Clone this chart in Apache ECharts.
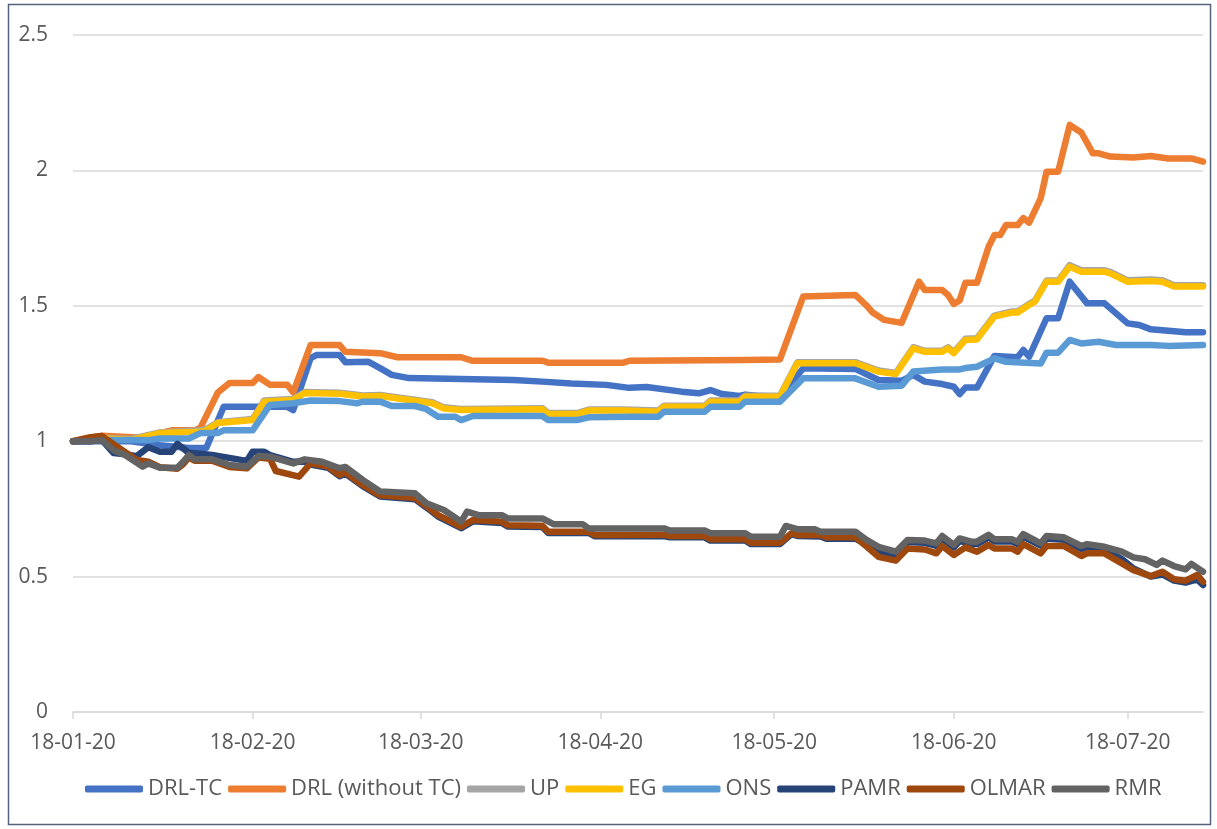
<!DOCTYPE html>
<html>
<head>
<meta charset="utf-8">
<script src="https://cdn.jsdelivr.net/npm/echarts@6/dist/echarts.min.js"></script>
<style>
  html, body { margin: 0; padding: 0; background: #ffffff; }
  #chart { width: 1217px; height: 829px; }
</style>
</head>
<body>
<div id="chart"></div>
<script>
// Portfolio value paths, Jan–Jul 2020 (dates are MM-DD in YEAR)
const YEAR = 2020;
const tickLabels = ['18-01-20', '18-02-20', '18-03-20', '18-04-20', '18-05-20', '18-06-20', '18-07-20'];
const seriesNames = ['DRL-TC', 'DRL (without TC)', 'UP', 'EG', 'ONS', 'PAMR', 'OLMAR', 'RMR'];
const seriesColors = ['#4472C4', '#ED7D31', '#A5A5A5', '#FFC000', '#5B9BD5', '#264478', '#9E480E', '#636363'];

const drlTc = [['01-18',1.00],['01-28',1.00],['02-02',0.985],['02-07',0.975],['02-10',0.975],['02-13',1.127],['02-24',1.127],['02-25',1.115],['02-28',1.307],['02-29',1.318],['03-04',1.318],['03-05',1.292],['03-09',1.293],['03-11',1.27],['03-13',1.245],['03-16',1.233],['03-25',1.23],['04-03',1.226],['04-08',1.22],['04-13',1.213],['04-19',1.208],['04-23',1.197],['04-26',1.20],['05-02',1.183],['05-05',1.177],['05-07',1.189],['05-09',1.174],['05-12',1.167],['05-13',1.172],['05-15',1.168],['05-19',1.164],['05-23',1.269],['06-01',1.267],['06-05',1.226],['06-09',1.223],['06-11',1.245],['06-13',1.22],['06-16',1.211],['06-18',1.201],['06-19',1.174],['06-20',1.198],['06-22',1.198],['06-25',1.315],['06-29',1.31],['06-30',1.337],['07-01',1.312],['07-04',1.454],['07-06',1.454],['07-08',1.589],['07-11',1.509],['07-14',1.509],['07-18',1.435],['07-20',1.429],['07-22',1.413],['07-25',1.408],['07-28',1.402],['07-31',1.402]];

const drlNoTc = [['01-18',1.00],['01-23',1.02],['01-30',1.013],['02-02',1.03],['02-04',1.04],['02-08',1.04],['02-09',1.05],['02-12',1.18],['02-14',1.215],['02-18',1.215],['02-19',1.237],['02-21',1.208],['02-24',1.208],['02-25',1.18],['02-28',1.355],['03-04',1.355],['03-05',1.33],['03-11',1.325],['03-14',1.31],['03-25',1.31],['03-27',1.297],['04-08',1.297],['04-09',1.29],['04-22',1.29],['04-23',1.297],['05-13',1.30],['05-19',1.302],['05-23',1.534],['06-01',1.54],['06-03',1.50],['06-04',1.475],['06-06',1.448],['06-09',1.437],['06-12',1.589],['06-13',1.558],['06-16',1.558],['06-17',1.54],['06-18',1.507],['06-19',1.52],['06-20',1.585],['06-22',1.585],['06-24',1.718],['06-25',1.761],['06-26',1.761],['06-27',1.798],['06-29',1.798],['06-30',1.824],['07-01',1.807],['07-03',1.898],['07-04',1.995],['07-06',1.995],['07-08',2.168],['07-10',2.14],['07-12',2.063],['07-13',2.063],['07-15',2.051],['07-19',2.048],['07-22',2.053],['07-25',2.044],['07-29',2.044],['07-31',2.032]];

const up = [['01-18',1.00],['01-23',1.012],['01-28',1.008],['02-02',1.032],['02-09',1.04],['02-10',1.045],['02-12',1.07],['02-18',1.082],['02-20',1.15],['02-25',1.156],['02-27',1.182],['03-04',1.179],['03-08',1.169],['03-11',1.171],['03-16',1.156],['03-20',1.144],['03-22',1.125],['03-25',1.119],['04-08',1.122],['04-09',1.104],['04-14',1.104],['04-16',1.117],['04-22',1.117],['04-28',1.113],['04-29',1.131],['05-06',1.131],['05-07',1.15],['05-12',1.15],['05-13',1.168],['05-19',1.168],['05-22',1.292],['06-01',1.292],['06-05',1.261],['06-08',1.252],['06-11',1.347],['06-13',1.334],['06-16',1.334],['06-17',1.347],['06-18',1.329],['06-20',1.378],['06-22',1.38],['06-25',1.464],['06-28',1.479],['06-29',1.479],['07-01',1.507],['07-02',1.519],['07-04',1.593],['07-06',1.593],['07-08',1.65],['07-10',1.631],['07-14',1.631],['07-15',1.625],['07-18',1.594],['07-22',1.597],['07-24',1.594],['07-26',1.576],['07-31',1.576]];

const eg = [['01-18',1.00],['01-23',1.01],['01-28',1.005],['02-02',1.03],['02-09',1.035],['02-10',1.04],['02-12',1.067],['02-18',1.078],['02-20',1.146],['02-25',1.152],['02-27',1.178],['03-04',1.175],['03-08',1.165],['03-11',1.167],['03-16',1.152],['03-20',1.14],['03-22',1.121],['03-25',1.115],['04-08',1.118],['04-09',1.10],['04-14',1.10],['04-16',1.113],['04-22',1.113],['04-28',1.109],['04-29',1.127],['05-06',1.127],['05-07',1.146],['05-12',1.146],['05-13',1.164],['05-19',1.164],['05-22',1.288],['06-01',1.288],['06-05',1.257],['06-08',1.248],['06-11',1.343],['06-13',1.33],['06-16',1.33],['06-17',1.343],['06-18',1.325],['06-20',1.374],['06-22',1.376],['06-25',1.46],['06-28',1.475],['06-29',1.475],['07-01',1.503],['07-02',1.515],['07-04',1.589],['07-06',1.589],['07-08',1.644],['07-10',1.626],['07-14',1.626],['07-15',1.62],['07-18',1.589],['07-22',1.592],['07-24',1.589],['07-26',1.571],['07-31',1.571]];

const ons = [['01-18',1.00],['01-23',1.004],['01-31',1.004],['02-02',1.01],['02-07',1.01],['02-09',1.03],['02-12',1.03],['02-13',1.04],['02-18',1.04],['02-21',1.134],['02-25',1.14],['02-28',1.15],['03-04',1.148],['03-07',1.14],['03-08',1.146],['03-11',1.146],['03-13',1.13],['03-17',1.13],['03-19',1.118],['03-21',1.09],['03-24',1.09],['03-25',1.078],['03-27',1.093],['04-08',1.093],['04-09',1.078],['04-14',1.078],['04-16',1.088],['04-23',1.09],['04-28',1.09],['04-29',1.109],['05-06',1.109],['05-07',1.127],['05-12',1.127],['05-13',1.146],['05-19',1.146],['05-23',1.232],['06-01',1.232],['06-05',1.201],['06-09',1.205],['06-11',1.257],['06-16',1.265],['06-19',1.265],['06-20',1.27],['06-22',1.275],['06-25',1.306],['06-27',1.293],['07-03',1.287],['07-04',1.327],['07-06',1.327],['07-08',1.374],['07-10',1.361],['07-13',1.367],['07-16',1.355],['07-22',1.355],['07-25',1.352],['07-31',1.355]];

const pamr = [['01-18',1.00],['01-21',1.00],['01-23',1.004],['01-25',0.956],['01-27',0.952],['01-29',0.945],['01-31',0.978],['02-02',0.961],['02-04',0.961],['02-05',0.99],['02-07',0.957],['02-11',0.949],['02-16',0.931],['02-17',0.928],['02-18',0.961],['02-20',0.961],['02-21',0.949],['02-25',0.924],['02-27',0.925],['02-28',0.914],['03-02',0.902],['03-04',0.871],['03-05',0.88],['03-08',0.834],['03-11',0.796],['03-17',0.786],['03-19',0.755],['03-21',0.722],['03-25',0.679],['03-27',0.704],['04-01',0.698],['04-02',0.685],['04-08',0.683],['04-09',0.661],['04-16',0.661],['04-17',0.649],['04-29',0.65],['04-30',0.645],['05-06',0.645],['05-07',0.633],['05-13',0.633],['05-14',0.62],['05-19',0.62],['05-21',0.657],['05-22',0.65],['05-26',0.648],['05-27',0.64],['06-01',0.64],['06-03',0.618],['06-05',0.592],['06-08',0.575],['06-10',0.628],['06-13',0.625],['06-15',0.614],['06-16',0.642],['06-18',0.608],['06-19',0.632],['06-21',0.62],['06-22',0.62],['06-24',0.645],['06-25',0.63],['06-28',0.63],['06-29',0.62],['06-30',0.648],['07-03',0.614],['07-04',0.641],['07-07',0.636],['07-10',0.602],['07-11',0.609],['07-14',0.60],['07-17',0.565],['07-19',0.53],['07-22',0.50],['07-24',0.508],['07-26',0.485],['07-28',0.478],['07-30',0.49],['07-31',0.469]];

const olmar = [['01-18',1.00],['01-21',1.015],['01-23',1.019],['01-26',0.974],['01-29',0.931],['01-31',0.924],['02-02',0.904],['02-05',0.898],['02-06',0.915],['02-07',0.94],['02-08',0.928],['02-11',0.928],['02-14',0.905],['02-17',0.90],['02-19',0.94],['02-21',0.935],['02-22',0.89],['02-26',0.869],['02-28',0.918],['03-02',0.906],['03-04',0.875],['03-05',0.885],['03-08',0.838],['03-11',0.80],['03-17',0.79],['03-19',0.76],['03-21',0.727],['03-25',0.684],['03-27',0.709],['04-01',0.703],['04-02',0.69],['04-08',0.688],['04-09',0.666],['04-16',0.666],['04-17',0.654],['04-29',0.655],['04-30',0.65],['05-06',0.65],['05-07',0.638],['05-13',0.638],['05-14',0.625],['05-19',0.625],['05-21',0.66],['05-22',0.654],['05-26',0.654],['05-27',0.645],['06-01',0.645],['06-03',0.61],['06-05',0.573],['06-08',0.559],['06-10',0.604],['06-13',0.60],['06-15',0.586],['06-16',0.613],['06-18',0.58],['06-20',0.608],['06-22',0.592],['06-24',0.617],['06-25',0.604],['06-28',0.604],['06-29',0.592],['06-30',0.62],['07-03',0.586],['07-04',0.613],['07-07',0.613],['07-10',0.576],['07-11',0.586],['07-14',0.586],['07-17',0.549],['07-19',0.524],['07-22',0.502],['07-24',0.518],['07-26',0.49],['07-28',0.485],['07-30',0.506],['07-31',0.481]];

const rmr = [['01-18',1.00],['01-21',1.00],['01-23',1.004],['01-25',0.967],['01-27',0.949],['01-30',0.906],['01-31',0.918],['02-02',0.902],['02-05',0.902],['02-06',0.924],['02-07',0.949],['02-08',0.933],['02-11',0.933],['02-14',0.912],['02-17',0.906],['02-19',0.945],['02-21',0.943],['02-25',0.918],['02-27',0.933],['03-01',0.924],['03-04',0.90],['03-05',0.905],['03-08',0.857],['03-11',0.814],['03-17',0.808],['03-19',0.771],['03-22',0.746],['03-25',0.703],['03-26',0.74],['03-28',0.727],['04-01',0.727],['04-02',0.715],['04-08',0.715],['04-10',0.693],['04-15',0.693],['04-16',0.678],['04-29',0.678],['04-30',0.67],['05-06',0.67],['05-07',0.66],['05-13',0.66],['05-14',0.647],['05-19',0.647],['05-20',0.687],['05-22',0.675],['05-25',0.675],['05-26',0.666],['06-01',0.666],['06-03',0.635],['06-05',0.61],['06-08',0.592],['06-10',0.635],['06-13',0.633],['06-15',0.623],['06-16',0.65],['06-18',0.617],['06-19',0.641],['06-21',0.629],['06-22',0.629],['06-24',0.654],['06-25',0.638],['06-28',0.638],['06-29',0.629],['06-30',0.657],['07-03',0.623],['07-04',0.65],['07-07',0.645],['07-10',0.613],['07-11',0.62],['07-14',0.61],['07-17',0.592],['07-19',0.571],['07-21',0.564],['07-23',0.543],['07-24',0.559],['07-26',0.539],['07-28',0.527],['07-29',0.547],['07-31',0.518]];

const seriesData = [drlTc, drlNoTc, up, eg, ons, pamr, olmar, rmr];

// Helpers for the date axis (dates are placed as timestamps on a value axis)
function toTime(md) {
  const [m, d] = md.split('-').map(Number);
  return new Date(YEAR, m - 1, d).getTime();
}
function labelToTime(label) {
  const [d, m, y] = label.split('-').map(Number);
  return new Date(2000 + y, m - 1, d).getTime();
}
const tickTimes = tickLabels.map(labelToTime);
const lastTime = toTime(drlTc[drlTc.length - 1][0]);

const FONT = '"Open Sans", "Noto Sans", sans-serif';
const TEXT_COLOR = '#595959';
const GRID_COLOR = '#D9D9D9';

const chart = echarts.init(document.getElementById('chart'), null, { renderer: 'canvas' });

chart.setOption({
  animation: false,
  backgroundColor: '#ffffff',
  graphic: [{
    type: 'rect',
    shape: { x: 8.5, y: 4.5, width: 1202, height: 820 },
    style: { fill: 'none', stroke: '#55637d', lineWidth: 1.5 },
    z: -1
  }],
  grid: { left: 73, right: 14, top: 35, bottom: 117, containLabel: false },
  legend: {
    data: seriesNames,
    left: 80,
    top: 773,
    icon: 'roundRect',
    itemWidth: 58,
    itemHeight: 7,
    itemGap: 6,
    textStyle: { fontFamily: FONT, fontSize: 22, color: TEXT_COLOR }
  },
  xAxis: {
    type: 'value',
    min: tickTimes[0],
    max: lastTime,
    axisLine: { show: true, lineStyle: { color: GRID_COLOR, width: 1.5 } },
    axisTick: { show: true, customValues: tickTimes, length: 7, lineStyle: { color: GRID_COLOR, width: 1.5 } },
    axisLabel: {
      customValues: tickTimes,
      margin: 21,
      fontFamily: FONT,
      fontSize: 21,
      color: TEXT_COLOR,
      formatter: function (v) {
        const i = tickTimes.indexOf(v);
        return i >= 0 ? tickLabels[i] : '';
      }
    },
    splitLine: { show: false }
  },
  yAxis: {
    type: 'value',
    min: 0,
    max: 2.5,
    interval: 0.5,
    axisLine: { show: false },
    axisTick: { show: false },
    axisLabel: { margin: 25, fontFamily: FONT, fontSize: 21, color: TEXT_COLOR },
    splitLine: { lineStyle: { color: GRID_COLOR, width: 1.5 } }
  },
  series: seriesNames.map(function (name, i) {
    return {
      name: name,
      type: 'line',
      showSymbol: false,
      symbol: 'none',
      color: seriesColors[i],
      lineStyle: { width: 6.5, color: seriesColors[i], cap: 'round', join: 'round' },
      data: seriesData[i].map(function (p) { return [toTime(p[0]), p[1]]; })
    };
  })
});
</script>
</body>
</html>
